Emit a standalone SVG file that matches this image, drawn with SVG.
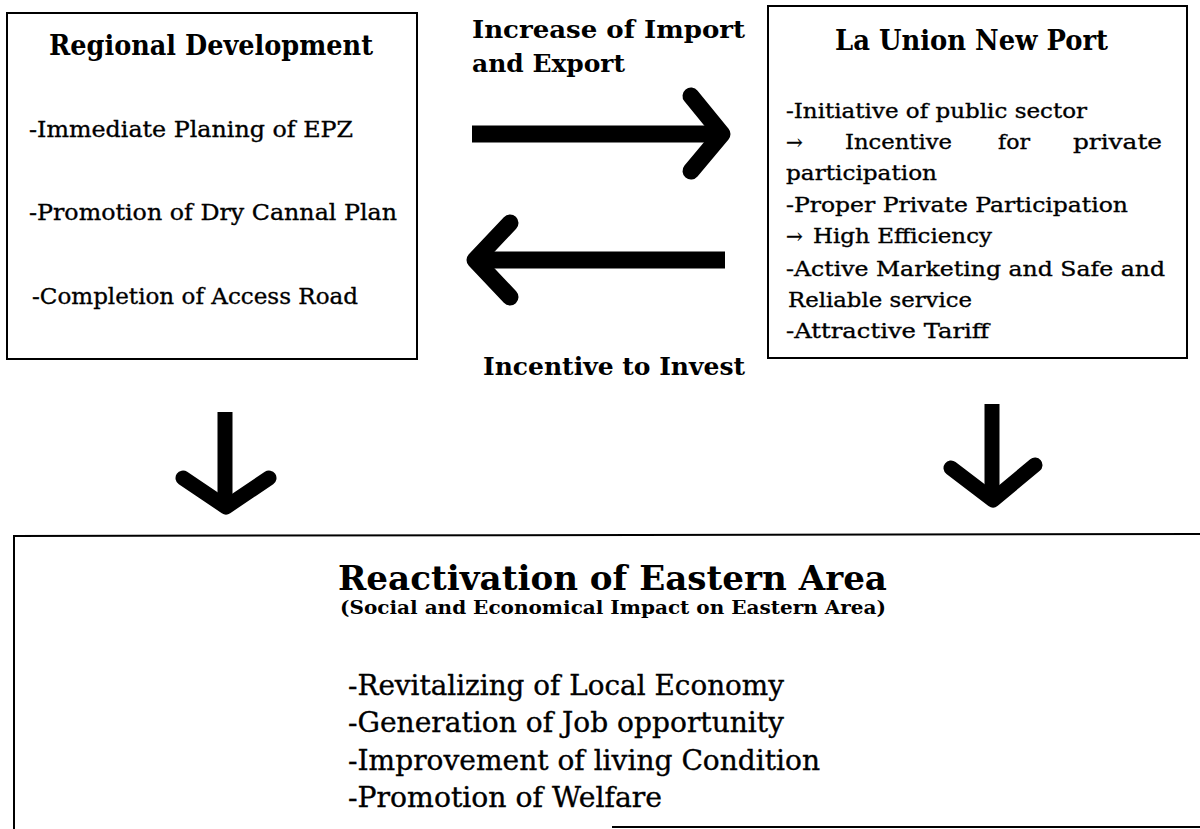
<svg xmlns="http://www.w3.org/2000/svg" width="1200" height="829" viewBox="0 0 1200 829">
  <style>
    .box { fill: #ffffff; stroke: #000000; stroke-width: 2; }
    .edge { fill: none; stroke: #000000; stroke-width: 2; }
    .t { font-family: "DejaVu Serif", "Liberation Serif", serif; fill: #000000; }
    .reg { stroke: #000000; stroke-width: 0.35; }
    .title { font-weight: bold; font-size: 27px; }
    .lbl { font-weight: bold; font-size: 24px; }
    .item { font-size: 23px; }
    .small { font-size: 20px; }
    .big { font-weight: bold; font-size: 33px; }
    .sub { font-weight: bold; font-size: 19px; }
    .bul { font-size: 27px; }
    .shaft { fill: none; stroke: #000000; stroke-linecap: butt; }
    .head { fill: none; stroke: #000000; stroke-linecap: round; stroke-linejoin: round; }
    .h { stroke-width: 17; }
    .v { stroke-width: 15; }
  </style>

  <rect width="1200" height="829" fill="#ffffff"/>

  <!-- Regional Development -->
  <g id="node-regional">
    <rect class="box" x="7" y="13" width="410" height="346"/>
    <text class="t title" x="49" y="55" textLength="324" lengthAdjust="spacingAndGlyphs">Regional Development</text>
    <text class="t reg item" x="29" y="137" textLength="324" lengthAdjust="spacingAndGlyphs">-Immediate Planing of EPZ</text>
    <text class="t reg item" x="29" y="220" textLength="368" lengthAdjust="spacingAndGlyphs">-Promotion of Dry Cannal Plan</text>
    <text class="t reg item" x="32" y="304" textLength="326" lengthAdjust="spacingAndGlyphs">-Completion of Access Road</text>
  </g>

  <!-- La Union New Port -->
  <g id="node-port">
    <rect class="box" x="768" y="6" width="419" height="352"/>
    <text class="t title" x="835" y="50" textLength="273" lengthAdjust="spacingAndGlyphs">La Union New Port</text>
    <text class="t reg small" x="786" y="118" textLength="301" lengthAdjust="spacingAndGlyphs">-Initiative of public sector</text>
    <text class="t reg small" y="149"><tspan x="786">→</tspan><tspan x="845" textLength="107" lengthAdjust="spacingAndGlyphs">Incentive</tspan><tspan x="998" textLength="32" lengthAdjust="spacingAndGlyphs">for</tspan><tspan x="1073" textLength="89" lengthAdjust="spacingAndGlyphs">private</tspan></text>
    <text class="t reg small" x="786" y="180" textLength="151" lengthAdjust="spacingAndGlyphs">participation</text>
    <text class="t reg small" x="786" y="212" textLength="342" lengthAdjust="spacingAndGlyphs">-Proper Private Participation</text>
    <text class="t reg small" y="243"><tspan x="786">→</tspan><tspan x="813" textLength="179" lengthAdjust="spacingAndGlyphs">High Efficiency</tspan></text>
    <text class="t reg small" x="786" y="276" textLength="379" lengthAdjust="spacingAndGlyphs">-Active Marketing and Safe and</text>
    <text class="t reg small" x="788" y="307" textLength="184" lengthAdjust="spacingAndGlyphs">Reliable service</text>
    <text class="t reg small" x="786" y="338" textLength="203" lengthAdjust="spacingAndGlyphs">-Attractive Tariff</text>
  </g>

  <!-- Reactivation of Eastern Area -->
  <g id="node-eastern">
    <path class="edge" d="M1200,534 L14,536 L14,829"/>
    <path class="edge" d="M612,827 L1200,827"/>
    <text class="t big" x="338" y="590" textLength="549" lengthAdjust="spacingAndGlyphs">Reactivation of Eastern Area</text>
    <text class="t sub" x="340" y="614" textLength="546" lengthAdjust="spacingAndGlyphs">(Social and Economical Impact on Eastern Area)</text>
    <text class="t reg bul" x="348" y="695" textLength="436" lengthAdjust="spacingAndGlyphs">-Revitalizing of Local Economy</text>
    <text class="t reg bul" x="348" y="732" textLength="436" lengthAdjust="spacingAndGlyphs">-Generation of Job opportunity</text>
    <text class="t reg bul" x="348" y="770" textLength="472" lengthAdjust="spacingAndGlyphs">-Improvement of living Condition</text>
    <text class="t reg bul" x="348" y="807" textLength="314" lengthAdjust="spacingAndGlyphs">-Promotion of Welfare</text>
  </g>

  <!-- Flows between the nodes -->
  <g id="connectors">
    <!-- development -> port -->
    <path class="shaft h" d="M472,134 L722,134"/>
    <path class="head h" d="M691,96 L722,134 L691,171"/>
    <text class="t lbl" x="472" y="38" textLength="273" lengthAdjust="spacingAndGlyphs">Increase of Import</text>
    <text class="t lbl" x="472" y="72" textLength="153" lengthAdjust="spacingAndGlyphs">and Export</text>

    <!-- port -> development -->
    <path class="shaft h" d="M725,260 L475,260"/>
    <path class="head h" d="M510,223 L475,260 L510,297"/>
    <text class="t lbl" x="483" y="375" textLength="262" lengthAdjust="spacingAndGlyphs">Incentive to Invest</text>

    <!-- development -> eastern area -->
    <path class="shaft v" d="M225,412 L225,505"/>
    <path class="head v" d="M183,478 L226,507 L269,478"/>

    <!-- port -> eastern area -->
    <path class="shaft v" d="M992,404 L992,498"/>
    <path class="head v" d="M951,468 L993,500 L1035,465"/>
  </g>
</svg>
